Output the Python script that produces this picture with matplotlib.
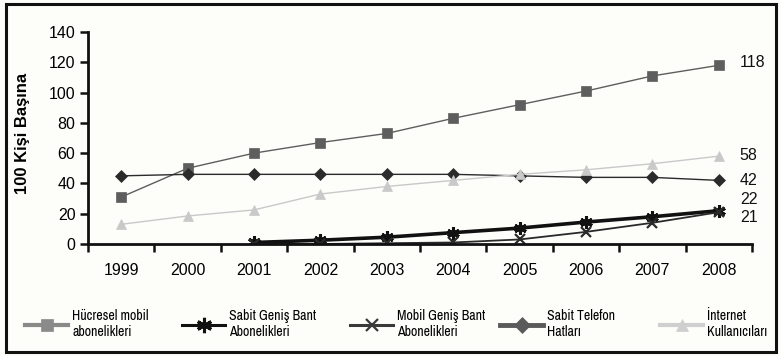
import numpy as np
import matplotlib
matplotlib.use("Agg")
import matplotlib.pyplot as plt
from matplotlib.lines import Line2D
from matplotlib.patches import Rectangle

years = ["1999", "2000", "2001", "2002", "2003", "2004", "2005", "2006", "2007", "2008"]

hucresel_mobil = [31, 50, 60, 67, 73, 83, 92, 101, 111, 118]
sabit_genis_bant = [np.nan, np.nan, 1, 2.5, 4.5, 7.5, 10.5, 14.5, 18, 22]
mobil_genis_bant = [np.nan, np.nan, 0, 0, 0.5, 1, 3, 8, 14, 21]
sabit_telefon = [45, 46, 46, 46, 46, 46, 45, 44, 44, 42]
internet = [13, 18.5, 22.5, 33, 38, 42, 46, 49, 53, 58]

end_labels = ["118", "22", "21", "42", "58"]

regular = ["Liberation Sans", "DejaVu Sans"]

fig = plt.figure(figsize=(7.81, 3.56), dpi=100)
fig.patch.set_facecolor("#fdfdfa")
fig.add_artist(Rectangle((6 / 781, 4 / 356), 770 / 781, 348 / 356,
                         transform=fig.transFigure, fill=False,
                         edgecolor="#111111", linewidth=2.2))

ax = fig.add_axes([88 / 781, 112 / 356, 664 / 781, 212 / 356])
ax.set_facecolor("none")
x = np.arange(len(years))

series = [
    dict(y=hucresel_mobil, label="Hücresel mobil\nabonelikleri", color="#5e5e5e",
         marker="s", ms=6.5, lw=1.0, mew=0.5, leg_color="#8a8a8a", leg_lw=3.0),
    dict(y=sabit_genis_bant, label="Sabit Geniş Bant\nAbonelikleri", color="#111111",
         marker=(6, 2, 0), ms=9, lw=2.6, mew=2.2, leg_color="#111111", leg_lw=2.2),
    dict(y=mobil_genis_bant, label="Mobil Geniş Bant\nAbonelikleri", color="#2a2a2a",
         marker="x", ms=7, lw=1.3, mew=1.6, leg_color="#3a3a3a", leg_lw=2.2),
    dict(y=sabit_telefon, label="Sabit Telefon\nHatları", color="#2b2b2b",
         marker="D", ms=6, lw=1.0, mew=0.5, leg_color="#5a5a5a", leg_lw=3.5),
    dict(y=internet, label="İnternet\nKullanıcıları", color="#c9c9c9",
         marker="^", ms=7, lw=1.0, mew=0.5, leg_color="#cfcfcf", leg_lw=3.0),
]

for s in series:
    ax.plot(x, s["y"], color=s["color"], marker=s["marker"], markersize=s["ms"],
            linewidth=s["lw"], markeredgewidth=s["mew"],
            markeredgecolor=s["color"], markerfacecolor=s["color"])

# value labels at the right end of each series (vertical nudges in pixels)
label_nudge = {0: 3, 1: 11, 2: -5, 3: 0, 4: 1}
end_vals = [hucresel_mobil[-1], sabit_genis_bant[-1], mobil_genis_bant[-1],
            sabit_telefon[-1], internet[-1]]
for i, (txt, v) in enumerate(zip(end_labels, end_vals)):
    ax.annotate(txt, xy=(x[-1], v), xytext=(21, label_nudge[i]),
                textcoords="offset pixels", ha="left", va="center",
                fontsize=11.5, family=regular, color="#111111",
                annotation_clip=False)

ax.set_xlim(-0.5, len(years) - 0.5)
ax.set_ylim(0, 140)
ax.set_yticks(np.arange(0, 141, 20))
ax.set_xticks(np.arange(-0.5, len(years), 1.0))
ax.set_xticklabels([])
ax.set_xticks(x, minor=True)
ax.set_xticklabels(years, minor=True, fontsize=11.5, family=regular)
ax.tick_params(axis="x", which="major", length=6, width=1.8, direction="out", color="#111111")
ax.tick_params(axis="x", which="minor", length=0, pad=14)
ax.tick_params(axis="y", length=6, width=1.8, direction="out", labelsize=11.5,
               pad=3, color="#111111")
for lbl in ax.get_yticklabels():
    lbl.set_family(regular)

for side in ("top", "right"):
    ax.spines[side].set_visible(False)
for side in ("left", "bottom"):
    ax.spines[side].set_linewidth(2.0)
    ax.spines[side].set_color("#111111")

ax.set_ylabel("100 Kişi Başına", fontsize=12, fontweight="bold", family=regular)
ax.yaxis.set_label_coords(-0.087, 0.52)

# legend: one entry per slot along the bottom of the frame
slots = [25, 182, 350, 500, 660]
for s, xs in zip(series, slots):
    proxy = Line2D([], [], color=s["leg_color"], marker=s["marker"],
                   markersize=s["ms"] + 2, linewidth=s["leg_lw"],
                   markeredgewidth=s["mew"], markeredgecolor=s["leg_color"],
                   markerfacecolor=s["leg_color"])
    fig.legend(handles=[proxy], labels=[s["label"]], loc="center left",
               bbox_to_anchor=(xs / 781, 1 - 324 / 356), frameon=False,
               handlelength=3.1, handletextpad=0.3, borderpad=0, borderaxespad=0,
               prop={"family": "Archivo Narrow", "size": 10, "weight": "semibold"})

fig.savefig("out.png", dpi=100, facecolor=fig.get_facecolor())
